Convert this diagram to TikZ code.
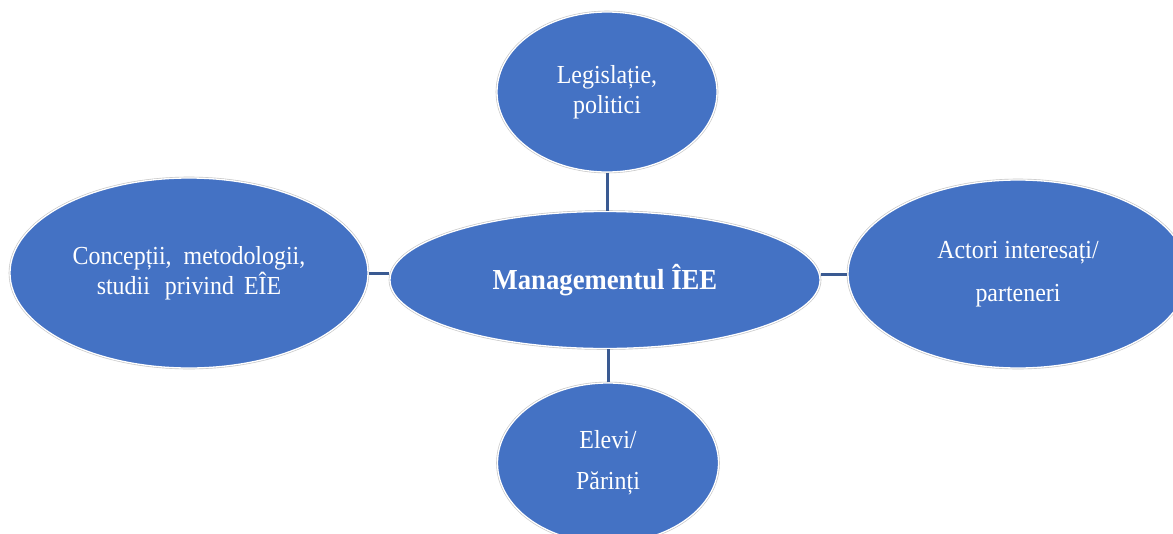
\documentclass[tikz,border=0pt]{standalone}
\usepackage{fontspec}
\setmainfont{Liberation Serif}[FakeStretch=0.92]
\usetikzlibrary{shapes.geometric}
\definecolor{fillblue}{HTML}{4472C4}
\definecolor{linkblue}{HTML}{3A5A92}
\tikzset{
  bubble/.style={ellipse, fill=fillblue, draw=white, line width=1.3pt,
    preaction={draw=black!22, line width=2.6pt},
    inner sep=0pt, text=white, align=center,
    font=\fontsize{26}{30}\selectfont},
  link/.style={draw=linkblue, line width=3pt}
}
\begin{document}
\begin{tikzpicture}[x=1pt,y=-1pt]
\useasboundingbox (0,0) rectangle (1173,533);
\clip (0,0) rectangle (1173,533);
\fill[white] (0,0) rectangle (1173,533);
\node[bubble, minimum width=430pt, minimum height=137pt,
  font=\fontsize{29}{34}\selectfont\bfseries] (center) at (605,280) {Managementul ÎEE};
\node[bubble, minimum width=220pt, minimum height=160pt] (top) at (607,92)
  {Legislație,\\politici};
\node[bubble, minimum width=358pt, minimum height=190pt] (left) at (189,273)
  {Concepții,\hspace{12pt}metodologii,\\studii\hspace{15pt}privind\hspace{10pt}EÎE};
\node[bubble, minimum width=340pt, minimum height=188pt,
  font=\fontsize{26}{43}\selectfont] (right) at (1018,274)
  {Actori interesați/\\parteneri};
\node[bubble, minimum width=221pt, minimum height=160pt,
  font=\fontsize{26}{41}\selectfont] (bottom) at (608,463)
  {Elevi/\\Părinți};
\draw[link] (top.south) -- (top.south |- center.north);
\draw[link] (left.east) -- (left.east -| center.west);
\draw[link] (right.west) -- (right.west -| center.east);
\draw[link] (bottom.north) -- (bottom.north |- center.south);
\end{tikzpicture}
\end{document}
